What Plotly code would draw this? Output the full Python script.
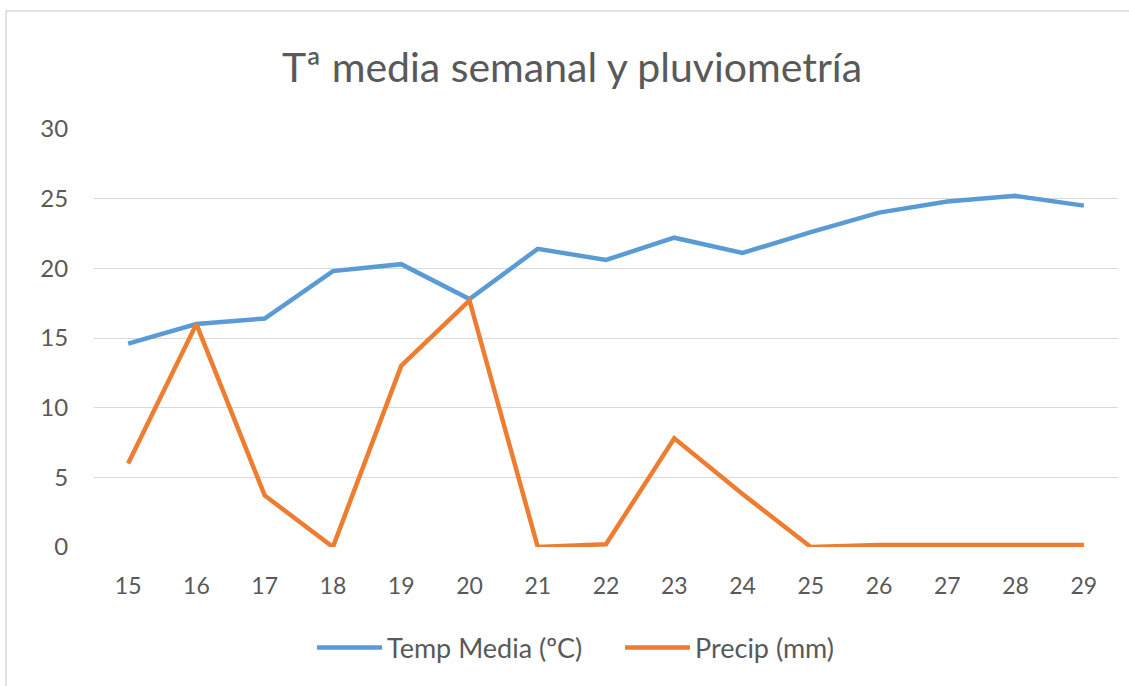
import plotly.graph_objects as go

weeks = ["15", "16", "17", "18", "19", "20", "21", "22", "23", "24", "25", "26", "27", "28", "29"]
temp_media = [14.6, 16.0, 16.4, 19.8, 20.3, 17.8, 21.4, 20.6, 22.2, 21.1, 22.6, 24.0, 24.8, 25.2, 24.5]
precip = [6.0, 16.0, 3.7, 0.0, 13.0, 17.7, 0.0, 0.2, 7.8, 3.8, 0.0, 0.15, 0.15, 0.15, 0.15]
y_ticks = [0, 5, 10, 15, 20, 25, 30]

title_text = "Tª media semanal y pluviometría"
name_temp = "Temp Media (ºC)"
name_precip = "Precip (mm)"

FONT = "Lato"
GREY = "#595959"

fig = go.Figure()
fig.add_trace(go.Scatter(x=weeks, y=temp_media, mode="lines", name=name_temp,
                         line=dict(color="#5B9BD5", width=4.5)))
fig.add_trace(go.Scatter(x=weeks, y=precip, mode="lines", name=name_precip,
                         line=dict(color="#ED7D31", width=4.5)))

W, H = 1129, 686
L, R, T, B = 94, 11, 129, 139
pw, ph = W - L - R, H - T - B

fig.update_layout(
    width=W, height=H,
    margin=dict(l=L, r=R, t=T, b=B),
    paper_bgcolor="white", plot_bgcolor="white",
    font=dict(family=FONT, color=GREY),
    title=dict(text=title_text, x=572 / W, xanchor="center", y=1 - 68 / H, yanchor="middle",
               font=dict(size=41, color=GREY, family=FONT)),
    showlegend=True,
    legend=dict(orientation="h", x=(312 - L) / pw, xanchor="left", y=-101 / ph, yanchor="middle",
                font=dict(size=27, color=GREY, family=FONT), itemwidth=65,
                entrywidth=228, entrywidthmode="pixels",
                bgcolor="rgba(0,0,0,0)"),
    xaxis=dict(type="category", range=[-0.5, len(weeks) - 0.5], showgrid=False,
               zeroline=False, showline=False,
               ticks="outside", ticklen=18, tickcolor="rgba(0,0,0,0)",
               tickfont=dict(size=23, color=GREY, family=FONT)),
    yaxis=dict(range=[0, 30], tickvals=y_ticks, showgrid=True, gridcolor="#D9D9D9",
               gridwidth=1.3, zeroline=False, showline=False,
               ticks="outside", ticklen=20, tickcolor="rgba(0,0,0,0)",
               tickfont=dict(size=24, color=GREY, family=FONT)),
    shapes=[dict(type="rect", xref="paper", yref="paper",
                 x0=(6 - L) / pw, x1=(W + 5 - L) / pw,
                 y0=-(H + 5 - (H - B)) / ph, y1=((H - B) - 11) / ph,
                 line=dict(color="#D9D9D9", width=1.5), fillcolor="rgba(0,0,0,0)", layer="below")],
)

fig.write_html("out.html", config={"displayModeBar": False},
               post_script="document.body.style.margin='0';document.body.style.overflow='hidden';")
